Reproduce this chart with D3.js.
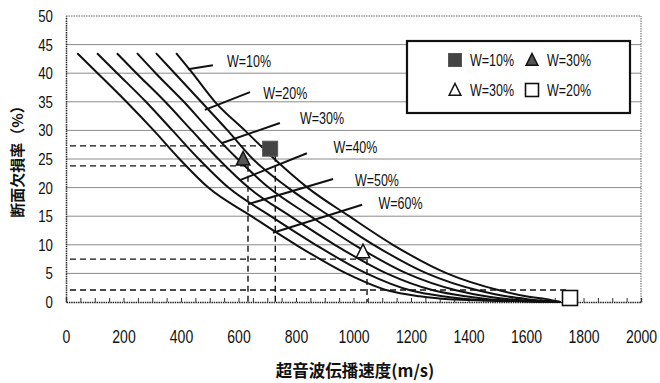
<!DOCTYPE html>
<html>
<head>
<meta charset="utf-8">
<script src="https://cdn.jsdelivr.net/npm/d3@7"></script>
<style>
  html, body { margin: 0; padding: 0; background: #fff; }
  svg { display: block; }
  .num { font-family: "Liberation Sans", Arial, sans-serif; fill: #111; }
  .lbl { font-family: "Liberation Sans", Arial, sans-serif; font-size: 16px; fill: #111; }
  .ttl { font-family: "Noto Sans CJK JP", sans-serif; font-weight: 700; fill: #111; }
</style>
</head>
<body>
<div id="chart"></div>
<script>
const lossLevels = [43.5, 40, 35, 30, 25, 20, 15, 10, 5, 2, 1, 0.5, 0];
const speedW10 = [383, 440, 518, 622, 725, 840, 985, 1137, 1325, 1510, 1600, 1673, 1720];
const speedW20 = [313, 378, 470, 562, 650, 772, 918, 1070, 1255, 1435, 1530, 1605, 1720];
const speedW30 = [247, 312, 410, 500, 597, 705, 850, 1003, 1185, 1360, 1460, 1540, 1720];
const speedW40 = [177, 245, 345, 437, 530, 635, 780, 935, 1115, 1280, 1390, 1470, 1720];
const speedW50 = [108, 178, 278, 370, 462, 565, 712, 868, 1045, 1200, 1310, 1400, 1720];
const speedW60 = [39, 110, 210, 305, 395, 495, 645, 800, 975, 1120, 1230, 1330, 1720];
const curveNames = ["W=10%", "W=20%", "W=30%", "W=40%", "W=50%", "W=60%"];

// measured specimens
const markerNames = ["W=10%", "W=30%", "W=30%", "W=20%"];
const markerShapes = ["squareFilled", "triangleFilled", "triangleOpen", "squareOpen"];
const markerSpeed = [710, 616, 1033, 1753];
const markerLoss = [26.8, 25, 8.8, 0.7];

// dashed read-off lines (speed, loss)
const guideSpeed = [728, 633, 1047, 1745];
const guideLoss = [27.3, 23.8, 7.5, 2.1];

// curve label leaders, in data units: start on curve -> end near text
const leaderStart = [[424, 40.7], [483, 33.6], [543, 27.8], [605, 21.3], [633, 17.1], [720, 12.1]];
const leaderEnd = [[511, 41.4], [640, 36.7], [744, 31.3], [838, 26], [929, 21.5], [1030, 17]];
const labelAt = [[560, 42], [686, 36.5], [814, 32.1], [930, 27.1], [1005, 21.3], [1087, 17.2]];

const xTicks = d3.range(0, 2001, 200);
const yTicks = d3.range(0, 51, 5);

const W = 660, H = 383;
const M = { left: 66, right: 19, top: 16, bottom: 81 };
const NARROW = 0.78;
const svg = d3.select("#chart").append("svg").attr("width", W).attr("height", H);

const x = d3.scaleLinear().domain([0, 2000]).range([M.left, W - M.right]);
const y = d3.scaleLinear().domain([0, 50]).range([H - M.bottom, M.top]);

// grid
svg.append("g").selectAll("line").data(yTicks.filter(v => v > 0)).enter().append("line")
  .attr("x1", x(0)).attr("x2", x(2000))
  .attr("y1", d => y(d)).attr("y2", d => y(d))
  .attr("stroke", d => d === 50 ? "#666" : "#8a8a8a")
  .attr("stroke-dasharray", d => d === 50 ? "1.5,1" : null)
  .attr("stroke-width", 1);
svg.append("line").attr("x1", x(2000)).attr("x2", x(2000)).attr("y1", y(0)).attr("y2", y(50))
  .attr("stroke", "#666").attr("stroke-dasharray", "1.5,1");

// axes
const yAxis = svg.append("g").attr("transform", `translate(${x(0)},0)`)
  .call(d3.axisLeft(y).tickValues(yTicks).tickSize(0));
yAxis.select(".domain").attr("stroke", "#222").attr("stroke-width", 1.5).attr("stroke-dasharray", "1.5,0.8");
yAxis.selectAll("text").attr("class", "num").attr("font-size", 17).attr("font-family", null)
  .attr("x", 0).attr("transform", `translate(-13,0) scale(${NARROW},1)`);

const xMinor = svg.append("g").attr("transform", `translate(0,${y(0)})`)
  .call(d3.axisBottom(x).tickValues(d3.range(0, 2001, 50)).tickSize(-4).tickFormat(""));
xMinor.select(".domain").attr("stroke", "#222").attr("stroke-width", 1.5).attr("stroke-dasharray", "1.5,0.8");
xMinor.selectAll(".tick line").attr("stroke", "#333");

const xAxis = svg.append("g").attr("transform", `translate(0,${y(0)})`)
  .call(d3.axisBottom(x).tickValues(xTicks).tickSize(0).tickPadding(28).tickFormat(d3.format("d")));
xAxis.select(".domain").remove();
xAxis.selectAll("text").attr("class", "num").attr("font-size", 18).attr("font-family", null)
  .attr("transform", `scale(${NARROW},1)`);

// guide lines
const guides = svg.append("g").attr("stroke", "#111").attr("stroke-width", 1.4).attr("stroke-dasharray", "6,4");
guideSpeed.forEach((s, i) => {
  guides.append("line").attr("x1", x(0) + 4).attr("x2", x(s)).attr("y1", y(guideLoss[i])).attr("y2", y(guideLoss[i]));
  guides.append("line").attr("x1", x(s)).attr("x2", x(s)).attr("y1", y(guideLoss[i])).attr("y2", y(0));
});

// curves
const line = d3.line().x(d => x(d[0])).y(d => y(d[1])).curve(d3.curveMonotoneX);
const series = [speedW10, speedW20, speedW30, speedW40, speedW50, speedW60];
series.forEach(sp => {
  svg.append("path").attr("d", line(sp.map((s, i) => [s, lossLevels[i]])))
    .attr("fill", "none").attr("stroke", "#111").attr("stroke-width", 2);
});

function narrowText(g, tx, ty, str) {
  return g.append("text").attr("class", "lbl")
    .attr("transform", `translate(${tx},${ty}) scale(${NARROW},1)`)
    .attr("dy", "0.35em").text(str);
}

// leaders + labels
curveNames.forEach((name, i) => {
  svg.append("line")
    .attr("x1", x(leaderStart[i][0])).attr("y1", y(leaderStart[i][1]))
    .attr("x2", x(leaderEnd[i][0])).attr("y2", y(leaderEnd[i][1]))
    .attr("stroke", "#111").attr("stroke-width", 2);
  narrowText(svg, x(labelAt[i][0]), y(labelAt[i][1]), name);
});

// markers
function drawMarker(g, shape, cx, cy, size) {
  const h = size / 2;
  if (shape.startsWith("square")) {
    g.append("rect").attr("x", cx - h).attr("y", cy - h).attr("width", size).attr("height", size)
      .attr("fill", shape === "squareFilled" ? "#444" : "#fff")
      .attr("stroke", shape === "squareFilled" ? "#555" : "#111")
      .attr("stroke-width", shape === "squareFilled" ? 1 : 1.6);
  } else {
    g.append("path")
      .attr("d", `M${cx},${cy - h}L${cx + h * 0.9},${cy + h * 0.8}L${cx - h * 0.9},${cy + h * 0.8}Z`)
      .attr("fill", shape === "triangleFilled" ? "#555" : "#fff")
      .attr("stroke", "#111").attr("stroke-width", 1.5);
  }
}
const marks = svg.append("g");
markerSpeed.forEach((s, i) => drawMarker(marks, markerShapes[i], x(s), y(markerLoss[i]), 15));

// legend
const lg = svg.append("g");
lg.append("rect").attr("x", 407).attr("y", 41).attr("width", 223).attr("height", 72)
  .attr("fill", "#fff").attr("stroke", "#111").attr("stroke-width", 2.2);
markerNames.forEach((name, j) => {
  const col = j % 2, row = Math.floor(j / 2);
  const lx = 455 + col * 77, ly = 60 + row * 30;
  drawMarker(lg, markerShapes[j], lx, ly, 13);
  narrowText(lg, lx + 15, ly, name);
});

// titles
svg.append("text").attr("class", "ttl").attr("font-size", 15)
  .attr("transform", `translate(23,158) rotate(-90)`)
  .attr("text-anchor", "middle").text("断面欠損率（%）");
svg.append("text").attr("class", "ttl").attr("font-size", 16.5)
  .attr("x", 355).attr("y", 377).attr("text-anchor", "middle").text("超音波伝播速度(m/s)");
</script>
</body>
</html>
